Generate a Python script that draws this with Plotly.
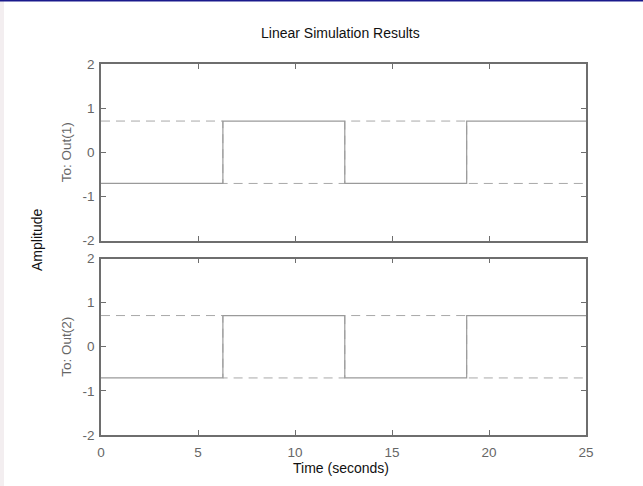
import plotly.graph_objects as go
from plotly.subplots import make_subplots

# Data
switch_times = [0, 6.2832, 12.5664, 18.8496, 25]
out_levels = [-0.7071, 0.7071, -0.7071, 0.7071, 0.7071]
in_levels = [0.7071, -0.7071, 0.7071, -0.7071, -0.7071]
y_ticks = [-2, -1, 0, 1, 2]
y_tick_text = ["-2", "-1", "0", "1", "2"]
x_ticks = [0, 5, 10, 15, 20, 25]
x_tick_text = ["0", "5", "10", "15", "20", "25"]
row_titles = ["To: Out(1)", "To: Out(2)"]

W, H = 643, 486
L, R, T, B = 101, 57, 64, 51
pw, ph = W - L - R, H - T - B
FONT = "Liberation Sans, Arial, sans-serif"

fig = make_subplots(rows=2, cols=1, shared_xaxes=True, vertical_spacing=18 / ph)

for r in (1, 2):
    fig.add_trace(go.Scatter(x=switch_times, y=in_levels, mode="lines", line_shape="hv",
                             line=dict(color="#a8a8a8", width=1, dash="9px,6px"),
                             showlegend=False, hoverinfo="skip"), row=r, col=1)
    fig.add_trace(go.Scatter(x=switch_times, y=out_levels, mode="lines", line_shape="hv",
                             line=dict(color="#9a9a9a", width=1.2),
                             showlegend=False, hoverinfo="skip"), row=r, col=1)

tickfont = dict(family=FONT, size=13.5, color="#666666")
axcommon = dict(showline=True, linecolor="#6e6e6e", linewidth=1.5, mirror="ticks",
                ticks="inside", ticklen=5, tickcolor="#6e6e6e", tickwidth=1,
                showgrid=False, zeroline=False, tickfont=tickfont)

for r in (1, 2):
    fig.update_xaxes(range=[0, 25], tickvals=x_ticks, ticktext=x_tick_text,
                     ticklabelstandoff=4, row=r, col=1, **axcommon)
    fig.update_yaxes(range=[-2, 2], tickvals=y_ticks, ticktext=y_tick_text,
                     ticklabelstandoff=2, row=r, col=1,
                     title=dict(text=row_titles[r - 1], standoff=8,
                                font=dict(family=FONT, size=13.5, color="#666666")),
                     **axcommon)
fig.update_xaxes(showticklabels=False, row=1, col=1)
fig.update_xaxes(showticklabels=True, row=2, col=1)

fig.update_layout(
    width=W, height=H,
    margin=dict(l=L, r=R, t=T, b=B),
    paper_bgcolor="white", plot_bgcolor="white",
    font=dict(family=FONT, size=13.5, color="#111111"),
)

def px_x(p):
    return (p - L) / pw

def px_y(p):
    return (H - B - p) / ph

fig.add_annotation(text="Linear Simulation Results", x=px_x(340), y=px_y(33), xref="paper", yref="paper",
                   showarrow=False, xanchor="center", yanchor="middle",
                   font=dict(family=FONT, size=14, color="#111111"))
fig.add_annotation(text="Time (seconds)", x=px_x(341), y=px_y(468), xref="paper", yref="paper",
                   showarrow=False, xanchor="center", yanchor="middle",
                   font=dict(family=FONT, size=14, color="#111111"))
fig.add_annotation(text="Amplitude", x=px_x(37), y=px_y(240), xref="paper", yref="paper",
                   showarrow=False, xanchor="center", yanchor="middle", textangle=-90,
                   font=dict(family=FONT, size=14, color="#111111"))

# frame decorations: blue top rule and left strip
fig.add_shape(type="rect", xref="paper", yref="paper", x0=px_x(0), x1=px_x(4), y0=px_y(H), y1=px_y(0),
              fillcolor="#f3eef0", line_width=0, layer="below")
fig.add_shape(type="rect", xref="paper", yref="paper", x0=px_x(0), x1=px_x(W), y0=px_y(1.5), y1=px_y(0),
              fillcolor="#1a1a8c", line_width=0)

fig.write_html("out.html")
